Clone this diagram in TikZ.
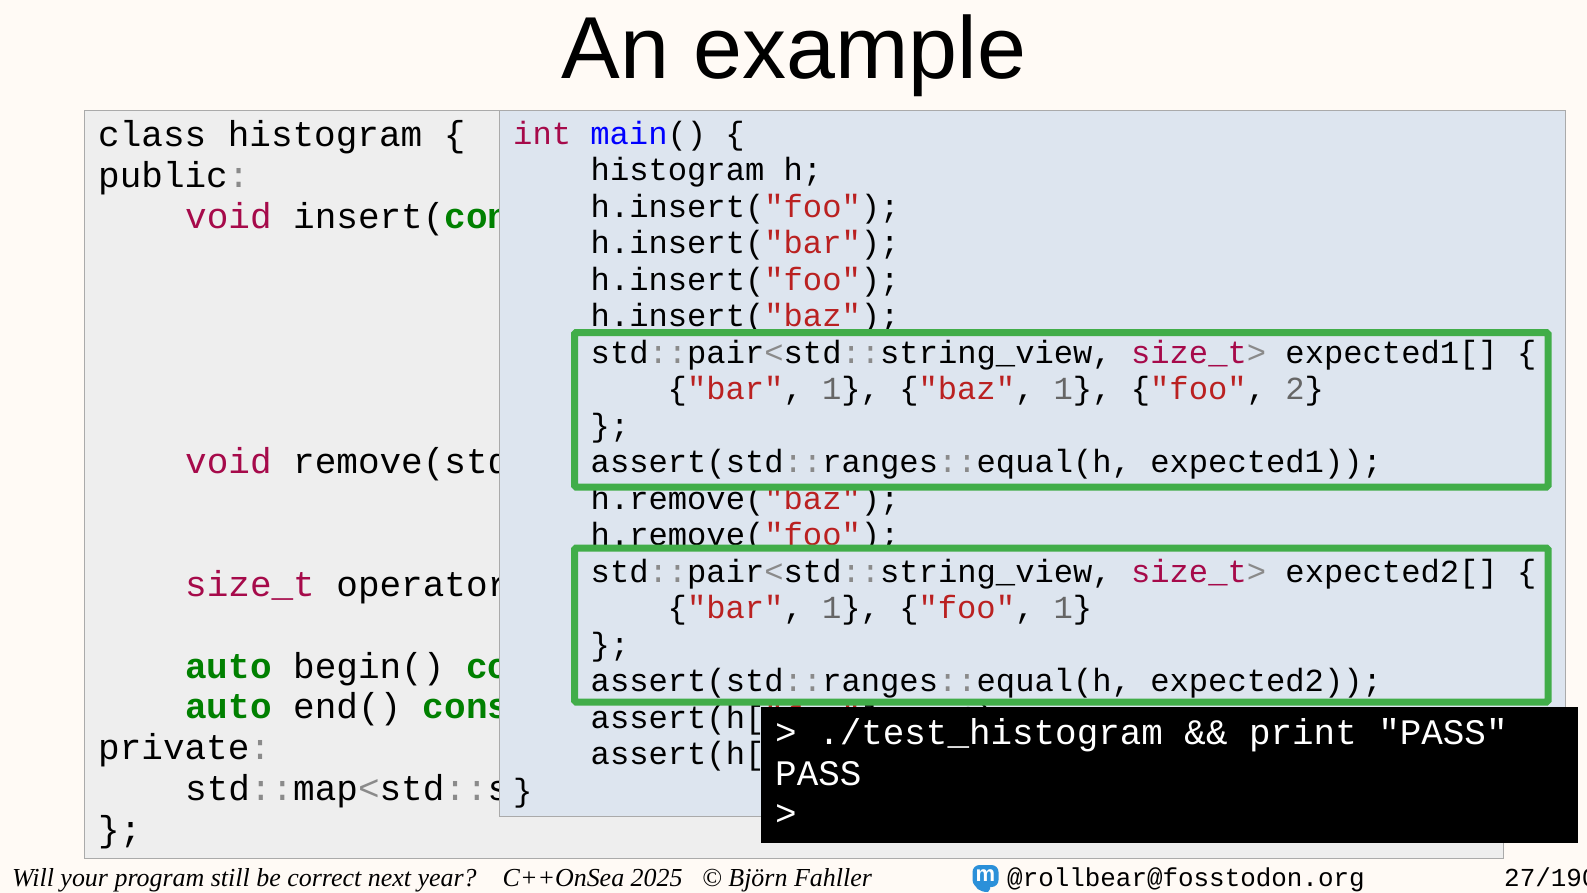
\documentclass[tikz,border=0pt]{standalone}
\usepackage{xcolor}
\usepackage{fontspec}
\usepackage{tikz}
\setmainfont{Liberation Serif}
\setsansfont{Liberation Sans}
\setmonofont{Liberation Mono}

\definecolor{slidebg}{HTML}{FFFAF5}
\definecolor{leftbg}{HTML}{EEEEEE}
\definecolor{rightbg}{HTML}{DDE5EF}
\definecolor{edgegray}{HTML}{AAAAAA}
\definecolor{boxgreen}{HTML}{41AD49}
\definecolor{kwred}{HTML}{A60A4A}
\definecolor{strred}{HTML}{BA2121}
\definecolor{kwgreen}{HTML}{008000}
\definecolor{opgray}{HTML}{8A8A8A}
\definecolor{numgray}{HTML}{666666}
\definecolor{mastblue}{HTML}{2B90D9}

\newcommand{\kw}[1]{\textcolor{kwred}{#1}}
\newcommand{\kb}[1]{\textcolor{kwgreen}{\bfseries #1}}
\newcommand{\st}[1]{\textcolor{strred}{#1}}
\newcommand{\op}[1]{\textcolor{opgray}{#1}}
\newcommand{\nm}[1]{\textcolor{numgray}{#1}}

\tikzset{
	leftcode/.style = {anchor=base west, inner sep=0pt, font=\fontsize{36}{40}\selectfont\ttfamily},
	rightcode/.style = {anchor=base west, inner sep=0pt, font=\fontsize{32.16}{36}\selectfont\ttfamily},
	termcode/.style = {anchor=base west, inner sep=0pt, text=white, font=\fontsize{35.9}{40}\selectfont\ttfamily},
	footserif/.style = {anchor=base west, inner sep=0pt, font=\fontsize{25.95}{30}\selectfont\itshape},
	footmono/.style = {anchor=base west, inner sep=0pt, font=\fontsize{25.9}{30}\selectfont\ttfamily},
	greenbox/.style = {draw=boxgreen, fill=rightbg, line width=7pt, rounded corners=1.5pt},
}

\begin{document}
\begin{tikzpicture}[x=1pt, y=-1pt]
\useasboundingbox (0,0) rectangle (1587,893);
\fill[slidebg] (0,0) rectangle (1587,893);

\node[anchor=base, inner sep=0pt, font=\fontsize{88}{90}\selectfont\sffamily] (title) at (794,79) {An example};

% class behind
\draw[edgegray, fill=leftbg] (84.5,110) rectangle (1503.5,858.5);
\foreach \i/\xx/\code in {
	0/98/{class histogram \{},
	1/98/{public\op{:}},
	2/185/{\kw{void} insert(\kb{con}},
	8/185/{\kw{void} remove(std},
	11/185/{\kw{size\_t} operator},
	13/185/{\kb{auto} begin() \kb{co}},
	14/185/{\kb{auto} end() \kb{cons}},
	15/98/{private\op{:}},
	16/185/{std\op{::}map\op{<}std\op{::}s},
	17/98/{\};}}{
	\node[leftcode] (left\i) at (\xx,147+40.85*\i) {\code};
}

% test in front
\draw[edgegray, fill=rightbg] (499.5,110.5) rectangle (1565.5,816.5);
\foreach \i/\xx/\code in {
	0/513/{\kw{int} \textcolor{blue}{main}() \{},
	1/590.5/{histogram h;},
	2/590.5/{h.insert(\st{"foo"});},
	3/590.5/{h.insert(\st{"bar"});},
	4/590.5/{h.insert(\st{"foo"});},
	5/590.5/{h.insert(\st{"baz"});},
	10/590.5/{h.remove(\st{"baz"});},
	11/590.5/{h.remove(\st{"foo"});},
	16/590.5/{assert(h[\st{"foo"}] == \nm{1});},
	17/590.5/{assert(h[},
	18/513/{\}}}{
	\node[rightcode] (right\i) at (\xx,144.2+36.5*\i) {\code};
}

\draw[greenbox] (574.5,332.5) rectangle (1548,487);
\draw[greenbox] (574.5,548) rectangle (1548,702);
\foreach \i/\xx/\code in {
	6/590.5/{std\op{::}pair\op{<}std\op{::}string\_view, \kw{size\_t}\op{>} expected1[] \{},
	7/667.5/{\{\st{"bar"}, \nm{1}\}, \{\st{"baz"}, \nm{1}\}, \{\st{"foo"}, \nm{2}\}},
	8/590.5/{\};},
	9/590.5/{assert(std\op{::}ranges\op{::}equal(h, expected1));},
	12/590.5/{std\op{::}pair\op{<}std\op{::}string\_view, \kw{size\_t}\op{>} expected2[] \{},
	13/667.5/{\{\st{"bar"}, \nm{1}\}, \{\st{"foo"}, \nm{1}\}},
	14/590.5/{\};},
	15/590.5/{assert(std\op{::}ranges\op{::}equal(h, expected2));}}{
	\node[rightcode] (check\i) at (\xx,144+36.5*\i) {\code};
}

% terminal
\fill[black] (761,706.5) rectangle (1578,843);
\node[termcode] (term0) at (775,744) {> ./test\_histogram \&\& print "PASS"};
\node[termcode] (term1) at (775,785) {PASS};
\node[termcode] (term2) at (775,825) {>};

% footer
\node[footserif] (talk) at (12,886) {Will your program still be correct next year?};
\node[footserif] (conf) at (502.5,886) {C++OnSea 2025};
\node[footserif] (author) at (702,886) {© Björn Fahller};
\fill[mastblue] (988,892) .. controls (979,892) and (974.5,888) .. (973,880) -- (990,880) -- (990,889) -- cycle;
\node[fill=mastblue, rounded corners=7pt, minimum width=26pt, minimum height=22pt, inner sep=0pt, text=white, font=\fontsize{22}{22}\selectfont\sffamily\bfseries] (mastodon) at (985.5,876) {m};
\node[footmono] (handle) at (1007,886) {@rollbear@fosstodon.org};
\node[footmono] (page) at (1504,886) {27/190};
\end{tikzpicture}
\end{document}
